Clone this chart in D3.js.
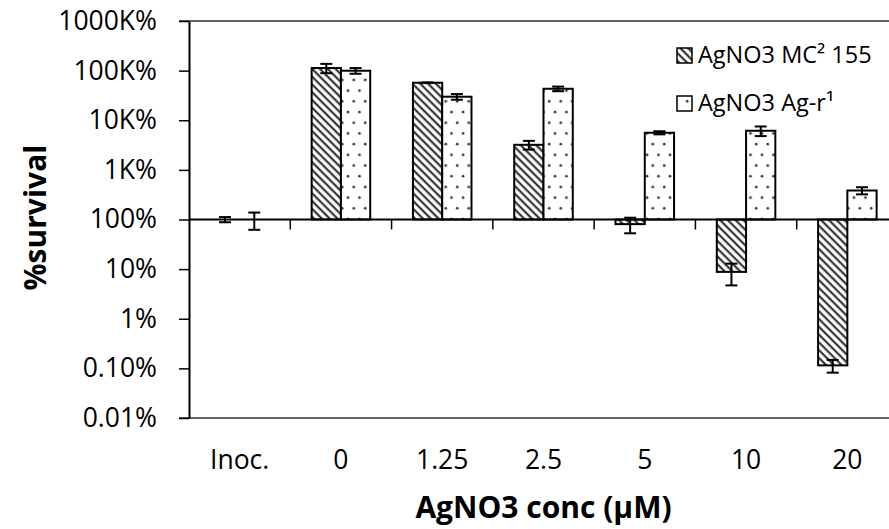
<!DOCTYPE html>
<html><head><meta charset="utf-8">
<script src="https://cdn.jsdelivr.net/npm/d3@7"></script>
<style>
body{margin:0;background:#fff;}
svg{display:block;font-family:'Open Sans',sans-serif;}
</style>
</head><body><svg id="c" width="889" height="529"></svg>
<script>
const categories = ["Inoc.","0","1.25","2.5","5","10","20"];
const seriesNames = ["AgNO3 MC\u00b2 155","AgNO3 Ag-r\u00b9"];
const mc2Values = [100, 112800, 57000, 3200, 80.7, 8.8, 0.115];
const mc2Errors = [12, 24000, 1000, 640, 28, 4.1, 0.033];
const agrValues = [100, 99500, 29800, 43100, 5600, 6140, 384];
const agrErrors = [38, 13000, 3900, 4600, 400, 1350, 63];
const yTickValues = [0.01,0.1,1,10,100,1e3,1e4,1e5,1e6];
const yTickLabels = ["0.01%","0.10%","1%","10%","100%","1K%","10K%","100K%","1000K%"];

const svg = d3.select("#c");
const L = 189, R = 898, T = 21, B = 418;
const y = d3.scaleLog().domain([0.01, 1e6]).range([B, T]);
const x = d3.scaleBand().domain(categories).range([L, R]).padding(0);
const groupW = x.bandwidth() * 0.578;
const xs = d3.scaleBand().domain([0,1]).range([0, groupW]).padding(0);
const base = y(100);

// patterns
const defs = svg.append("defs");
const hatch = defs.append("pattern").attr("id","hatch").attr("patternUnits","userSpaceOnUse")
  .attr("width",5.5).attr("height",5.5).attr("patternTransform","rotate(-45)");
hatch.append("rect").attr("width",5.5).attr("height",5.5).attr("fill","#fff");
hatch.append("line").attr("x1",1.5).attr("y1",0).attr("x2",1.5).attr("y2",5.5)
  .attr("stroke","#222").attr("stroke-width",2);
const dots = defs.append("pattern").attr("id","dots").attr("patternUnits","userSpaceOnUse")
  .attr("width",11.5).attr("height",21.4);
dots.append("rect").attr("width",11.5).attr("height",21.4).attr("fill","#fff");
dots.append("circle").attr("cx",3).attr("cy",5).attr("r",1.3).attr("fill","#333");
dots.append("circle").attr("cx",8.75).attr("cy",15.7).attr("r",1.3).attr("fill","#333");
const fills = ["url(#hatch)","url(#dots)"];

// top and bottom frame lines
svg.append("line").attr("x1",L-10).attr("x2",R).attr("y1",y(1e6)).attr("y2",y(1e6))
  .attr("stroke","#333").attr("stroke-width",1.5);
svg.append("line").attr("x1",L-10).attr("x2",R).attr("y1",y(0.01)).attr("y2",y(0.01))
  .attr("stroke","#333").attr("stroke-width",1.5);

// y axis
const yAxis = svg.append("g").attr("transform",`translate(${L},0)`)
  .call(d3.axisLeft(y).tickValues(yTickValues).tickFormat((d,i)=>yTickLabels[i])
    .tickSize(10).tickSizeOuter(0).tickPadding(22));
yAxis.select(".domain").attr("stroke","#000").attr("stroke-width",2);
yAxis.selectAll(".tick line").attr("stroke","#000").attr("stroke-width",1.5);
yAxis.selectAll("text").attr("font-size",26.5).attr("fill","#000").attr("font-family","'Open Sans',sans-serif");

// bars
const data = [];
categories.forEach((c,i)=>{
  data.push({c, s:0, v:mc2Values[i], e:mc2Errors[i]});
  data.push({c, s:1, v:agrValues[i], e:agrErrors[i]});
});
const bx = d => x(d.c) + (x.bandwidth()-groupW)/2 + xs(d.s);
svg.append("g").selectAll("rect").data(data.filter(d=>d.v!==100)).join("rect")
  .attr("x", bx).attr("width", xs.bandwidth())
  .attr("y", d => Math.min(y(d.v), base))
  .attr("height", d => Math.abs(y(d.v) - base))
  .attr("fill", d => fills[d.s]).attr("stroke","#000").attr("stroke-width",2);

// category axis at 100%
svg.append("line").attr("x1",L).attr("x2",R).attr("y1",base).attr("y2",base)
  .attr("stroke","#000").attr("stroke-width",2);
svg.append("g").selectAll("line").data(categories.slice(1)).join("line")
  .attr("x1",d=>x(d)).attr("x2",d=>x(d)).attr("y1",base).attr("y2",base+10)
  .attr("stroke","#000").attr("stroke-width",1.5);

// error bars
const eb = svg.append("g").attr("stroke","#000").attr("stroke-width",2);
data.forEach(d=>{
  const cx = bx(d) + xs.bandwidth()/2;
  const y1 = y(d.v + d.e), y2 = y(d.v - d.e);
  eb.append("line").attr("x1",cx).attr("x2",cx).attr("y1",y1).attr("y2",y2);
  eb.append("line").attr("x1",cx-6).attr("x2",cx+6).attr("y1",y1).attr("y2",y1);
  eb.append("line").attr("x1",cx-6).attr("x2",cx+6).attr("y1",y2).attr("y2",y2);
});

// x labels
const xAxis = svg.append("g").attr("transform",`translate(0,${B})`)
  .call(d3.axisBottom(x).tickSize(0).tickPadding(32));
xAxis.select(".domain").remove();
xAxis.selectAll("text").attr("font-size",26.5).attr("fill","#000").attr("font-family","'Open Sans',sans-serif");

// axis titles
svg.append("text").attr("x",(L+R)/2).attr("y",518).attr("text-anchor","middle")
  .attr("font-size",30).attr("font-weight","bold").text("AgNO3 conc (\u00b5M)");
svg.append("text").attr("transform",`translate(46,${(T+B)/2 - 2}) rotate(-90)`)
  .attr("text-anchor","middle").attr("font-size",30).attr("font-weight","bold").text("%survival");

// legend
const lg = svg.append("g");
seriesNames.forEach((n,i)=>{
  const ly = 48 + i*48;
  lg.append("rect").attr("x",677).attr("y",ly).attr("width",15).attr("height",15)
    .attr("fill",fills[i]).attr("stroke","#000").attr("stroke-width",1.5);
  lg.append("text").attr("x",698).attr("y",ly+15).attr("font-size",23.5).attr("fill","#000").text(n);
});
</script>
</body></html>
